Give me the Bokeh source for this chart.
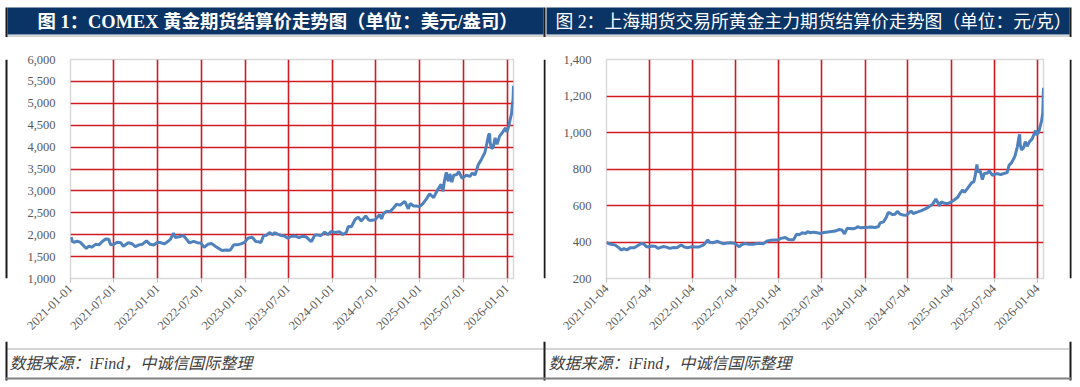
import pandas as pd
from bokeh.plotting import figure
from bokeh.layouts import row, column
from bokeh.models import Range1d, FixedTicker, NumeralTickFormatter, DatetimeTickFormatter
from bokeh.core.properties import value
from bokeh.embed import file_html
from bokeh.resources import INLINE
import math

# ---------------- data ----------------
comex_dates = [
    "2021-01-04", "2021-01-08", "2021-01-15", "2021-01-29", "2021-02-12", "2021-02-26", "2021-03-08",
    "2021-03-19", "2021-03-31", "2021-04-16", "2021-04-30", "2021-05-14", "2021-05-28", "2021-06-10",
    "2021-06-18", "2021-06-30", "2021-07-15", "2021-07-30", "2021-08-10", "2021-08-31", "2021-09-15",
    "2021-09-29", "2021-10-15", "2021-10-29", "2021-11-15", "2021-11-30", "2021-12-15", "2021-12-31",
    "2022-01-14", "2022-01-28", "2022-02-15", "2022-02-24", "2022-03-08", "2022-03-16", "2022-03-31",
    "2022-04-18", "2022-04-29", "2022-05-13", "2022-05-31", "2022-06-15", "2022-06-30", "2022-07-14",
    "2022-07-29", "2022-08-15", "2022-08-31", "2022-09-15", "2022-09-27", "2022-10-14", "2022-10-31",
    "2022-11-15", "2022-11-30", "2022-12-15", "2022-12-30", "2023-01-13", "2023-01-31", "2023-02-15",
    "2023-02-28", "2023-03-08", "2023-03-20", "2023-03-31", "2023-04-13", "2023-04-28", "2023-05-04",
    "2023-05-15", "2023-05-31", "2023-06-15", "2023-06-29", "2023-07-14", "2023-07-31", "2023-08-15",
    "2023-08-31", "2023-09-15", "2023-09-29", "2023-10-06", "2023-10-20", "2023-10-31", "2023-11-15",
    "2023-11-30", "2023-12-04", "2023-12-13", "2023-12-28", "2024-01-12", "2024-01-31", "2024-02-14",
    "2024-02-29", "2024-03-08", "2024-03-21", "2024-04-05", "2024-04-12", "2024-04-19", "2024-05-01",
    "2024-05-20", "2024-05-31", "2024-06-07", "2024-06-28", "2024-07-17", "2024-07-25", "2024-08-02",
    "2024-08-16", "2024-08-30", "2024-09-13", "2024-09-26", "2024-10-11", "2024-10-30", "2024-11-14",
    "2024-11-22", "2024-12-06", "2024-12-18", "2024-12-31", "2025-01-15", "2025-01-31", "2025-02-11",
    "2025-02-28", "2025-03-14", "2025-03-31", "2025-04-08", "2025-04-14", "2025-04-22", "2025-04-25",
    "2025-05-01", "2025-05-07", "2025-05-15", "2025-05-23", "2025-06-05", "2025-06-13", "2025-06-27",
    "2025-07-15", "2025-07-30", "2025-08-08", "2025-08-20", "2025-09-02", "2025-09-16", "2025-09-30",
    "2025-10-08", "2025-10-16", "2025-10-20", "2025-10-22", "2025-10-28", "2025-11-04", "2025-11-12",
    "2025-11-20", "2025-12-01", "2025-12-12", "2025-12-26", "2025-12-31", "2026-01-08", "2026-01-14",
    "2026-01-20", "2026-01-23", "2026-01-26", "2026-01-28",
]
comex_values = [
    1946, 1850, 1828, 1850, 1823, 1740, 1690, 1741, 1715, 1780, 1768, 1844, 1900, 1896,
    1770, 1775, 1829, 1817, 1735, 1818, 1794, 1730, 1768, 1783, 1860, 1780, 1765, 1828,
    1816, 1790, 1855, 1903, 2035, 1935, 1954, 1980, 1911, 1815, 1848, 1818, 1810, 1710,
    1781, 1797, 1730, 1680, 1640, 1650, 1645, 1770, 1768, 1790, 1826, 1920, 1945, 1845,
    1837, 1820, 1982, 1986, 2050, 1999, 2045, 2020, 1982, 1970, 1920, 1964, 1970, 1935,
    1966, 1946, 1870, 1845, 1994, 1995, 1982, 2057, 2042, 2000, 2075, 2051, 2067, 2005,
    2054, 2185, 2181, 2345, 2374, 2400, 2311, 2430, 2345, 2325, 2339, 2460, 2360, 2480,
    2538, 2527, 2611, 2694, 2676, 2760, 2590, 2712, 2656, 2653, 2641, 2717, 2835, 2932,
    2848, 3001, 3150, 2990, 3226, 3425, 3298, 3220, 3390, 3200, 3357, 3375, 3440, 3290,
    3358, 3330, 3410, 3360, 3590, 3725, 3870, 4070, 4280, 4310, 4110, 3970, 3990, 4210,
    4065, 4250, 4330, 4440, 4340, 4480, 4630, 4770, 4980, 5080, 5400,
]

shfe_dates = [
    "2021-01-04", "2021-01-15", "2021-01-29", "2021-02-10", "2021-02-26", "2021-03-08", "2021-03-19",
    "2021-03-31", "2021-04-16", "2021-04-30", "2021-05-14", "2021-05-31", "2021-06-10", "2021-06-21",
    "2021-06-30", "2021-07-15", "2021-07-30", "2021-08-10", "2021-08-31", "2021-09-15", "2021-09-29",
    "2021-10-15", "2021-10-29", "2021-11-16", "2021-11-30", "2021-12-15", "2021-12-31", "2022-01-14",
    "2022-01-28", "2022-02-15", "2022-02-24", "2022-03-09", "2022-03-17", "2022-03-31", "2022-04-19",
    "2022-04-29", "2022-05-13", "2022-05-31", "2022-06-15", "2022-06-30", "2022-07-14", "2022-07-21",
    "2022-07-29", "2022-08-15", "2022-08-31", "2022-09-15", "2022-09-28", "2022-10-14", "2022-10-31",
    "2022-11-15", "2022-11-30", "2022-12-15", "2022-12-30", "2023-01-13", "2023-01-31", "2023-02-15",
    "2023-02-28", "2023-03-08", "2023-03-20", "2023-03-31", "2023-04-14", "2023-04-28", "2023-05-05",
    "2023-05-19", "2023-05-31", "2023-06-15", "2023-06-30", "2023-07-14", "2023-07-31", "2023-08-15",
    "2023-08-31", "2023-09-15", "2023-09-28", "2023-10-09", "2023-10-20", "2023-10-31", "2023-11-15",
    "2023-11-30", "2023-12-04", "2023-12-15", "2023-12-29", "2024-01-15", "2024-01-31", "2024-02-15",
    "2024-02-29", "2024-03-08", "2024-03-22", "2024-04-03", "2024-04-12", "2024-04-22", "2024-04-30",
    "2024-05-10", "2024-05-20", "2024-05-31", "2024-06-14", "2024-06-28", "2024-07-17", "2024-07-26",
    "2024-08-15", "2024-08-30", "2024-09-13", "2024-09-27", "2024-10-15", "2024-10-30", "2024-11-08",
    "2024-11-14", "2024-11-22", "2024-12-06", "2024-12-19", "2024-12-31", "2025-01-15", "2025-01-31",
    "2025-02-11", "2025-02-21", "2025-02-28", "2025-03-14", "2025-03-31", "2025-04-09", "2025-04-15",
    "2025-04-22", "2025-04-25", "2025-05-06", "2025-05-15", "2025-05-23", "2025-06-06", "2025-06-13",
    "2025-06-27", "2025-07-15", "2025-07-31", "2025-08-15", "2025-08-28", "2025-09-05", "2025-09-16",
    "2025-09-30", "2025-10-10", "2025-10-17", "2025-10-20", "2025-10-22", "2025-10-28", "2025-11-05",
    "2025-11-13", "2025-11-21", "2025-12-01", "2025-12-12", "2025-12-26", "2025-12-31", "2026-01-08",
    "2026-01-14", "2026-01-21", "2026-01-26", "2026-01-29",
]
shfe_values = [
    398, 390, 386, 383, 368, 356, 364, 357, 369, 368, 378, 392, 390, 375,
    373, 378, 376, 365, 375, 372, 365, 370, 369, 384, 373, 369, 374, 373,
    372, 381, 390, 412, 398, 396, 404, 398, 391, 394, 396, 393, 380, 374,
    384, 392, 387, 387, 390, 393, 391, 405, 409, 411, 411, 420, 425, 413,
    412, 414, 442, 440, 451, 446, 456, 451, 454, 451, 447, 452, 455, 458,
    460, 468, 466, 445, 475, 474, 472, 479, 485, 478, 480, 481, 482, 480,
    483, 505, 510, 535, 563, 556, 550, 552, 568, 553, 548, 547, 570, 556,
    565, 572, 580, 590, 605, 635, 615, 598, 620, 612, 610, 617, 630, 645,
    670, 685, 672, 695, 725, 730, 765, 825, 785, 790, 742, 775, 778, 790,
    765, 775, 770, 775, 780, 820, 835, 870, 920, 975, 990, 935, 905, 915,
    950, 925, 950, 965, 1010, 985, 1000, 1030, 1065, 1110, 1245,
]

comex_ticks = ["2021-01-01", "2021-07-01", "2022-01-01", "2022-07-01", "2023-01-01", "2023-07-01",
               "2024-01-01", "2024-07-01", "2025-01-01", "2025-07-01", "2026-01-01"]
shfe_ticks = ["2021-01-04", "2021-07-04", "2022-01-04", "2022-07-04", "2023-01-04", "2023-07-04",
              "2024-01-04", "2024-07-04", "2025-01-04", "2025-07-04", "2026-01-04"]
comex_yticks = [1000, 1500, 2000, 2500, 3000, 3500, 4000, 4500, 5000, 5500, 6000]
shfe_yticks = [200, 400, 600, 800, 1000, 1200, 1400]

titles = ["图 1：COMEX 黄金期货结算价走势图（单位：美元/盎司）",
          "图 2：上海期货交易所黄金主力期货结算价走势图（单位：元/克）"]
source_text = "数据来源：iFind，中诚信国际整理"

# ---------------- style ----------------
NAVY = "#0b3466"
GRID_RED = "#d01a1f"
LINE_BLUE = "#4f81bd"
BORDER = "#1a1a1a"
SERIF = "Liberation Serif, Noto Sans CJK SC"
W = 1080
HEAD_H, MID_H, FOOT_H = 37, 304, 46


def ms(d):
    return pd.Timestamp(d).value // 10**6


def canvas_fig(width, height):
    """A figure whose frame is the whole canvas, with pixel data coordinates (y downward)."""
    p = figure(width=width, height=height, x_range=Range1d(0, width), y_range=Range1d(height, 0),
               output_backend="svg", toolbar_location=None,
               x_axis_location=None, y_axis_location=None,
               min_border=0, min_border_left=0, min_border_right=0,
               min_border_top=0, min_border_bottom=0)
    p.grid.visible = False
    p.outline_line_color = None
    p.background_fill_color = "white"
    p.border_fill_color = "white"
    return p


# ---------- header ----------
head = canvas_fig(W, HEAD_H)
head.quad(left=[7, 546], right=[543, 1069], top=[7, 7], bottom=[34, 34],
          fill_color=NAVY, line_color=None)
head.quad(left=[5, 543, 1069], right=[7, 545, 1071], top=[7, 7, 7], bottom=[HEAD_H] * 3,
          fill_color=BORDER, line_color=None)
head.segment(x0=[7], y0=[35.5], x1=[1069], y1=[35.5], line_color="#555555", line_width=1,
             line_dash="1 1")
head.text(x=[37], y=[21], text=[titles[0]], text_color="white", text_baseline="middle",
          text_font=value(SERIF), text_font_size="18.4px", text_font_style="bold")
head.text(x=[555], y=[21], text=[titles[1]], text_color="white", text_baseline="middle",
          text_font=value(SERIF), text_font_size="17.8px")

# ---------- footer ----------
foot = canvas_fig(W, FOOT_H)
foot.quad(left=[5, 543, 1069], right=[7, 545, 1071], top=[0, 0, 0], bottom=[39, 39, 39],
          fill_color=BORDER, line_color=None)
foot.quad(left=[5], right=[1071], top=[36], bottom=[38], fill_color="#808080", line_color=None)
foot.segment(x0=[7], y0=[7.5], x1=[1069], y1=[7.5], line_color="#555555", line_width=1,
             line_dash="1 1")
foot.text(x=[9, 548], y=[22, 22], text=[source_text, source_text], text_color="#404040",
          text_baseline="middle", text_font=value(SERIF), text_font_size="16px",
          text_font_style="italic")


# ---------- border strips ----------
def strip(width, x0):
    s = canvas_fig(width, MID_H)
    s.quad(left=[x0], right=[x0 + 2], top=[0], bottom=[MID_H], fill_color=BORDER, line_color=None)
    return s


# ---------- charts ----------
def chart(width, dates, vals, xticks, yticks, x_end, fl, fr, ft, fb):
    x = pd.to_datetime(dates)
    x_start = min(pd.Timestamp(xticks[0]), pd.Timestamp(dates[0]))
    p = figure(width=width, height=MID_H, x_axis_type="datetime",
               x_range=Range1d(x_start, pd.Timestamp(x_end)),
               y_range=Range1d(yticks[0], yticks[-1]),
               output_backend="svg", toolbar_location=None,
               min_border_left=fl, min_border_right=fr, min_border_top=ft, min_border_bottom=fb)
    p.background_fill_color = "white"
    p.border_fill_color = "white"
    p.outline_line_color = "#d9d9d9"
    p.outline_line_width = 1.5

    p.xaxis.ticker = FixedTicker(ticks=[ms(d) for d in xticks])
    fmt = "%Y-%m-%d"
    p.xaxis.formatter = DatetimeTickFormatter(milliseconds=fmt, seconds=fmt, minsec=fmt, minutes=fmt,
                                              hourmin=fmt, hours=fmt, days=fmt, months=fmt, years=fmt)
    p.yaxis.ticker = FixedTicker(ticks=yticks)
    p.yaxis.formatter = NumeralTickFormatter(format="0,0")
    for ax in (p.xaxis, p.yaxis):
        ax.axis_line_color = None
        ax.major_label_text_font = SERIF
        ax.major_label_text_font_size = "12.5px"
        ax.major_label_text_color = "#595959"
        ax.minor_tick_line_color = None
    p.xaxis.major_tick_line_color = "#bfbfbf"
    p.xaxis.major_tick_out = 4
    p.xaxis.major_tick_in = 0
    p.xaxis.major_label_orientation = math.pi / 4
    p.xaxis.major_label_standoff = 4
    p.yaxis.major_tick_line_color = None
    p.yaxis.major_label_standoff = 9

    p.xgrid.ticker = FixedTicker(ticks=[ms(d) for d in xticks[1:]])
    p.ygrid.ticker = FixedTicker(ticks=yticks[1:-1])
    p.xgrid.grid_line_color = GRID_RED
    p.ygrid.grid_line_color = GRID_RED
    p.xgrid.grid_line_width = 1.6
    p.ygrid.grid_line_width = 1.6

    p.line(x, vals, line_color=LINE_BLUE, line_width=3)
    return p


# left chart occupies x 8..543, right chart x 546..1069, both y 37..341
c1 = chart(535, comex_dates, comex_values, comex_ticks, comex_yticks, "2026-01-28",
           fl=70 - 8, fr=543 - 513, ft=57 - 37, fb=341 - 279)
c2 = chart(523, shfe_dates, shfe_values, shfe_ticks, shfe_yticks, "2026-01-29",
           fl=606 - 546, fr=1069 - 1043, ft=59 - 37, fb=341 - 278)

mid = row(strip(8, 5), c1, strip(3, 0), c2, strip(11, 0), spacing=0)
layout = column(head, mid, foot, spacing=0)
open("out.html", "w").write(file_html(layout, INLINE))
